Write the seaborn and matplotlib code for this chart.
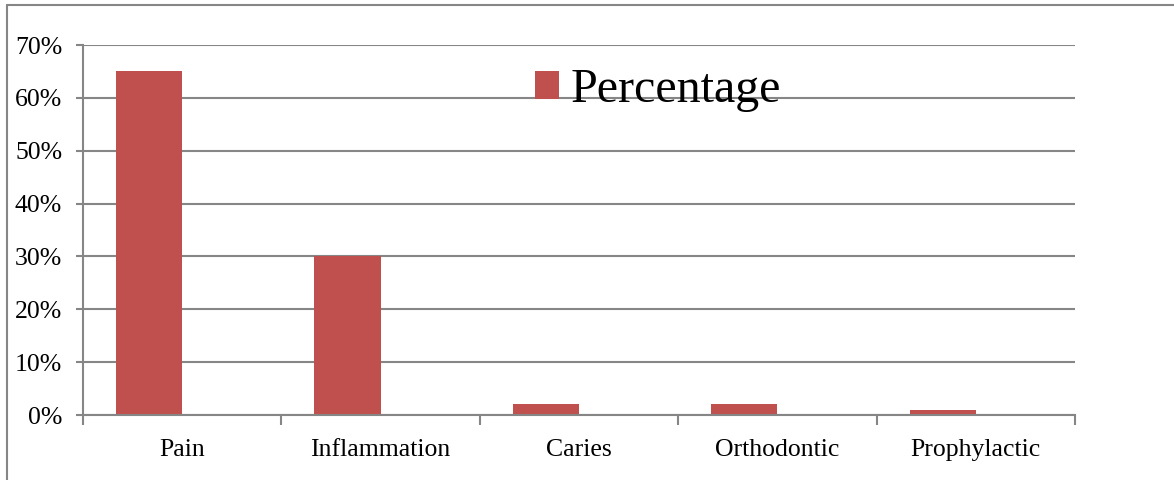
import matplotlib
matplotlib.use("Agg")
import matplotlib.pyplot as plt
import seaborn as sns
import pandas as pd
from matplotlib.patches import Patch
from matplotlib.lines import Line2D

categories = ["Pain", "Inflammation", "Caries", "Orthodontic", "Prophylactic"]
percentage = [0.65, 0.30, 0.02, 0.02, 0.01]
yticks = [0.0, 0.1, 0.2, 0.3, 0.4, 0.5, 0.6, 0.7]
ytick_labels = ["0%", "10%", "20%", "30%", "40%", "50%", "60%", "70%"]

bar_color = "#C0504D"
grid_color = "#868686"

sns.set_style("white")
plt.rcParams["font.family"] = ["Liberation Serif", "DejaVu Serif"]
plt.rcParams["text.color"] = "black"
plt.rcParams["xtick.color"] = "black"
plt.rcParams["ytick.color"] = "black"

df = pd.DataFrame({
    "category": categories * 2,
    "value": percentage + [0.0] * len(categories),
    "series": ["Percentage"] * len(categories) + ["_blank"] * len(categories),
})

fig = plt.figure(figsize=(11.74, 4.8), dpi=100)
ax = fig.add_axes([83 / 1174, 1 - 415 / 480, (1075 - 83) / 1174, (415 - 45) / 480])

sns.barplot(data=df, x="category", y="value", hue="series",
            hue_order=["Percentage", "_blank"], order=categories,
            palette=[bar_color, bar_color], width=0.667, gap=0,
            saturation=1, linewidth=0, errorbar=None, legend=False, ax=ax)

ax.set_xlim(-0.5, len(categories) - 0.5)
ax.set_ylim(0, 0.7)
ax.set_yticks(yticks)
ax.set_yticklabels(ytick_labels, fontsize=18.5, color="black")
ax.set_xticks(range(len(categories)))
ax.set_xticklabels(categories, fontsize=18.5, color="black")
ax.set_xticks([i - 0.5 for i in range(len(categories) + 1)], minor=True)
ax.tick_params(axis="x", which="both", bottom=True)
ax.tick_params(axis="y", which="both", left=True)
ax.tick_params(axis="x", which="major", length=0, pad=17)
ax.tick_params(axis="x", which="minor", length=7.5, width=1.5, color=grid_color, direction="out")
ax.tick_params(axis="y", which="major", length=5, width=1.5, color=grid_color, direction="out", pad=10)
ax.set_xlabel("")
ax.set_ylabel("")

ax.yaxis.grid(True, color=grid_color, linewidth=1.5)
ax.set_axisbelow(True)
for s in ["top", "right"]:
    ax.spines[s].set_visible(False)
for s in ["left", "bottom"]:
    ax.spines[s].set_color(grid_color)
    ax.spines[s].set_linewidth(1.5)

handle = Patch(facecolor=bar_color, edgecolor="none")
leg = ax.legend([handle], ["Percentage"], loc="upper left",
                bbox_to_anchor=(535 / 1174, 1 - 68 / 480), bbox_transform=fig.transFigure,
                frameon=False, fontsize=34.6, handlelength=0.5, handleheight=0.5,
                handletextpad=0.25, borderpad=0, borderaxespad=0)
for t in leg.get_texts():
    t.set_color("black")

# outer frame (partially visible)
fig.add_artist(Line2D([7 / 1174, 7 / 1174], [0, 1 - 5 / 480], transform=fig.transFigure,
                      color=grid_color, linewidth=1.5))
fig.add_artist(Line2D([7 / 1174, 1], [1 - 5 / 480, 1 - 5 / 480], transform=fig.transFigure,
                      color=grid_color, linewidth=1.5))

fig.savefig("out.png", dpi=100)
